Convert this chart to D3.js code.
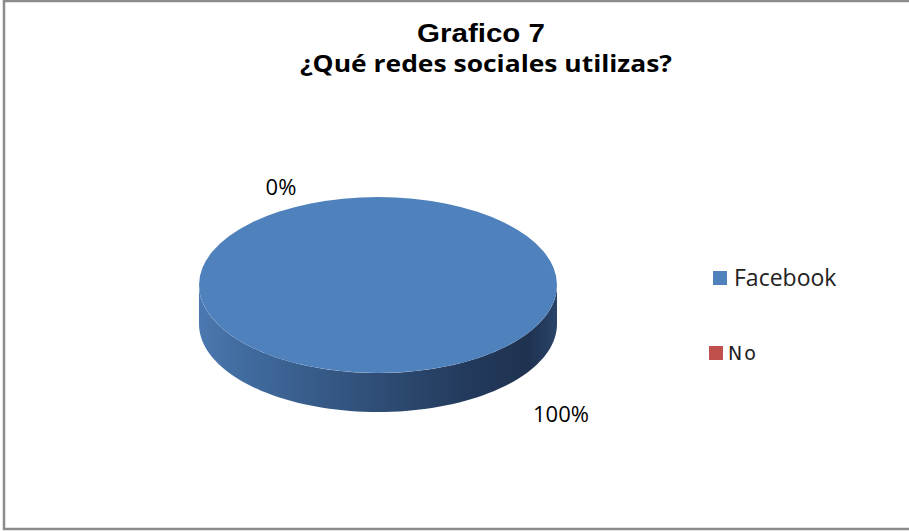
<!DOCTYPE html>
<html>
<head>
<meta charset="utf-8">
<script src="https://cdn.jsdelivr.net/npm/d3@7"></script>
<style>
  body { margin: 0; background: #fff; }
  svg { display: block; }
</style>
</head>
<body>
<div id="chart"></div>
<script>
// data
var categories = ["Facebook", "No"],
    values = [100, 0],
    colors = ["#4f81bd", "#c0504d"]

var titleText = "Grafico 7",
    subtitleText = "¿Qué redes sociales utilizas?"

var width = 909,
    height = 531,
    cx = 378,
    cy = 285,
    rx = 179,
    ry = 88,
    depth = 39

var svg = d3.select("#chart").append("svg")
    .attr("width", width)
    .attr("height", height)

// chart frame
svg.append("rect")
    .attr("x", 4)
    .attr("y", 1)
    .attr("width", 920)
    .attr("height", 528)
    .attr("fill", "#fff")
    .attr("stroke", "#8c8c8c")
    .attr("stroke-width", 2.5)

svg.append("text")
    .attr("x", 481)
    .attr("y", 42)
    .attr("text-anchor", "middle")
    .style("font-family", "Liberation Sans, Arial, sans-serif")
    .style("font-weight", "bold")
    .style("font-size", "25px")
    .attr("textLength", 128)
    .attr("lengthAdjust", "spacingAndGlyphs")
    .text(titleText)

svg.append("text")
    .attr("x", 486)
    .attr("y", 72)
    .attr("text-anchor", "middle")
    .style("font-family", "Open Sans, sans-serif")
    .style("font-weight", "bold")
    .style("font-size", "23.5px")
    .attr("textLength", 372)
    .attr("lengthAdjust", "spacingAndGlyphs")
    .text(subtitleText)

var defs = svg.append("defs")
var grad = defs.append("linearGradient")
    .attr("id", "side")
    .attr("gradientUnits", "userSpaceOnUse")
    .attr("x1", cx - rx).attr("x2", cx + rx)
    .attr("y1", 0).attr("y2", 0)
var stops = [[0, "#4b78b0"], [0.12, "#416ca0"], [0.45, "#31517b"], [0.75, "#233a5c"], [0.92, "#1f3250"], [1, "#2a4468"]]
grad.selectAll("stop").data(stops).enter().append("stop")
    .attr("offset", d => d[0])
    .attr("stop-color", d => d[1])

var pie = d3.pie().sort(null).value(d => d)
var arcs = pie(values)

// point on ellipse for angle a (0 = top, clockwise)
function pt(a, dy) {
  return [cx + rx * Math.sin(a), cy - ry * Math.cos(a) + (dy || 0)]
}

var g = svg.append("g")

// side walls (front half only: angles between PI/2 and 3PI/2)
arcs.forEach(function(d, i) {
  var a0 = Math.max(d.startAngle, Math.PI / 2),
      a1 = Math.min(d.endAngle, 3 * Math.PI / 2)
  if (a1 <= a0) return
  var steps = 80, top = [], bot = []
  for (var k = 0; k <= steps; k++) {
    var a = a0 + (a1 - a0) * k / steps
    top.push(pt(a))
    bot.push(pt(a, depth))
  }
  g.append("path")
      .attr("d", d3.line()(top.concat(bot.reverse())) + "Z")
      .attr("fill", i === 0 ? "url(#side)" : d3.color(colors[i]).darker(1))
})

// top faces
var arc = d3.arc().innerRadius(0).outerRadius(rx)
g.append("g")
    .attr("transform", "translate(" + cx + "," + cy + ") scale(1," + (ry / rx) + ")")
  .selectAll("path")
    .data(arcs)
  .enter().append("path")
    .attr("d", d => d.endAngle - d.startAngle >= 2 * Math.PI - 1e-9
        ? d3.arc().innerRadius(0).outerRadius(rx).startAngle(0).endAngle(2 * Math.PI)()
        : arc(d))
    .attr("fill", (d, i) => colors[i])

// data labels
var labelNudge = [[183, 137], [-97, -90]]
var pct = d3.format(".0%")
var total = d3.sum(values)
svg.selectAll("text.lbl")
    .data(arcs)
  .enter().append("text")
    .attr("class", "lbl")
    .attr("x", (d, i) => cx + labelNudge[i][0])
    .attr("y", (d, i) => cy + labelNudge[i][1])
    .attr("text-anchor", "middle")
    .style("font-family", "Open Sans, sans-serif")
    .style("font-size", "22px")
    .attr("fill", "#000")
    .text(d => pct(d.value / total))

// legend
var legendY = d3.scalePoint().domain(categories).range([278, 353])
var leg = svg.selectAll("g.leg")
    .data(categories)
  .enter().append("g")
    .attr("class", "leg")
    .attr("transform", d => "translate(0," + legendY(d) + ")")
leg.append("rect")
    .attr("x", (d, i) => i === 0 ? 713 : 709)
    .attr("y", -7)
    .attr("width", 14)
    .attr("height", 14)
    .attr("fill", (d, i) => colors[i])
leg.append("text")
    .attr("x", (d, i) => i === 0 ? 734 : 728)
    .attr("y", (d, i) => i === 0 ? 8 : 7)
    .style("font-family", (d, i) => i === 0 ? "Open Sans, sans-serif" : "DejaVu Sans, sans-serif")
    .style("font-size", (d, i) => i === 0 ? "23px" : "19px")
    .style("letter-spacing", (d, i) => i === 0 ? "0px" : "2px")
    .attr("fill", "#222")
    .text(d => d)
</script>
</body>
</html>
